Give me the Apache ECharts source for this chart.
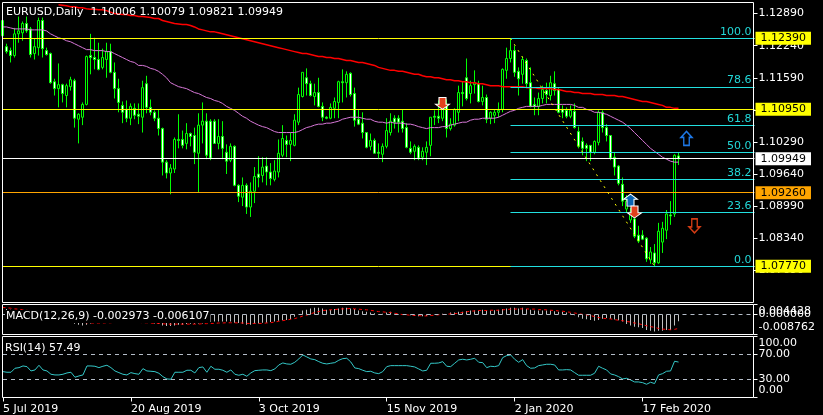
<!DOCTYPE html>
<html>
<head>
    <meta charset="utf-8"/>
    <title>EURUSD Daily</title>
    <script src="https://cdn.jsdelivr.net/npm/echarts@6/dist/echarts.min.js"></script>
    <style>
        html, body { margin: 0; padding: 0; background: #000; }
        #main { width: 823px; height: 415px; }
    </style>
</head>
<body>
<div id="main"></div>
<script type="text/javascript">
    // one value per daily bar
    var open = [1.1244,1.1222,1.1214,1.1204,1.1248,1.1250,1.1269,1.1258,1.1208,1.1220,1.1275,1.1214,1.1208,1.1151,1.1137,1.1145,1.1123,1.1141,1.1153,1.1075,
        1.1079,1.1105,1.1204,1.1200,1.1196,1.1180,1.1196,1.1212,1.1170,1.1137,1.1103,1.1095,1.1077,1.1097,1.1085,1.1079,1.1147,1.1099,1.1089,1.1077,
        1.1056,1.0988,1.0966,1.0974,1.1034,1.1034,1.1026,1.1046,1.1042,1.1006,1.1063,1.1071,1.1071,1.1071,1.1026,1.1040,1.1008,1.0992,1.1020,1.0941,
        1.0917,1.0941,1.0897,1.0929,1.0964,1.0961,1.0980,1.0968,1.0953,1.0968,1.1002,1.1032,1.1024,1.1022,1.1069,1.1121,1.1159,1.1147,1.1121,1.1129,
        1.1101,1.1079,1.1077,1.1097,1.1109,1.1151,1.1149,1.1168,1.1127,1.1075,1.1067,1.1048,1.1020,1.1032,1.1008,1.1004,1.1020,1.1048,1.1077,1.1077,
        1.1071,1.1058,1.1016,1.1010,1.1018,1.0998,1.1008,1.1022,1.1081,1.1081,1.1077,1.1105,1.1056,1.1063,1.1089,1.1129,1.1159,1.1127,1.1145,1.1147,
        1.1111,1.1119,1.1077,1.1083,1.1089,1.1095,1.1174,1.1198,1.1214,1.1172,1.1166,1.1194,1.1149,1.1105,1.1101,1.1117,1.1133,1.1123,1.1147,1.1135,
        1.1095,1.1093,1.1081,1.1091,1.1050,1.1030,1.1022,1.1022,1.1008,1.1028,1.1089,1.1058,1.1042,1.0998,1.0980,1.0943,1.0893,1.0871,1.0873,1.0840,
        1.0840,1.0834,1.0790,1.0804,1.0784,1.0826,1.0850,1.0881,1.0883,1.10006];
    var close = [1.1275,1.1212,1.1204,1.1248,1.1254,1.1269,1.1254,1.1206,1.1222,1.1275,1.1218,1.1206,1.1149,1.1137,1.1145,1.1127,1.1143,1.1155,1.1077,1.1085,
        1.1105,1.1202,1.1200,1.1196,1.1176,1.1200,1.1212,1.1170,1.1137,1.1109,1.1089,1.1077,1.1101,1.1083,1.1081,1.1139,1.1099,1.1089,1.1077,1.1056,
        1.0988,1.0966,1.0976,1.1034,1.1032,1.1022,1.1046,1.1040,1.1008,1.1063,1.1071,1.1002,1.0996,1.1026,1.1040,1.1016,1.0990,1.1020,1.0941,1.0919,
        1.0941,1.0897,1.0929,1.0959,1.0957,1.0978,1.0968,1.0955,1.0970,1.1006,1.1036,1.1024,1.1032,1.1073,1.1125,1.1170,1.1147,1.1123,1.1129,1.1101,
        1.1079,1.1077,1.1099,1.1111,1.1151,1.1149,1.1166,1.1125,1.1073,1.1065,1.1048,1.1018,1.1032,1.1006,1.1006,1.1020,1.1052,1.1071,1.1069,1.1069,
        1.1056,1.1018,1.1008,1.1020,1.0996,1.1010,1.1018,1.1079,1.1079,1.1077,1.1097,1.1056,1.1065,1.1095,1.1129,1.1127,1.1117,1.1143,1.1149,1.1111,
        1.1119,1.1075,1.1089,1.1089,1.1093,1.1176,1.1198,1.1214,1.1170,1.1157,1.1196,1.1147,1.1101,1.1101,1.1117,1.1135,1.1125,1.1149,1.1133,1.1089,
        1.1089,1.1081,1.1093,1.1058,1.1020,1.1016,1.1016,1.1008,1.1030,1.1089,1.1058,1.1042,1.0996,1.0978,1.0945,1.0909,1.0909,1.0887,1.0838,1.0828,
        1.0832,1.0792,1.0806,1.0784,1.0848,1.0854,1.0883,1.0879,1.1002,1.09949];
    var low = [1.1240,1.1208,1.1190,1.1200,1.1230,1.1234,1.1250,1.1200,1.1196,1.1204,1.1200,1.1204,1.1147,1.1123,1.1099,1.1109,1.1099,1.1133,1.1058,1.1026,
        1.1063,1.1103,1.1166,1.1176,1.1174,1.1176,1.1159,1.1168,1.1117,1.1089,1.1067,1.1069,1.1063,1.1075,1.1065,1.1048,1.1087,1.1083,1.1071,1.1042,
        1.0961,1.0955,1.0923,1.0966,1.1016,1.1016,1.1014,1.1020,1.0984,1.0927,1.1026,1.0994,1.0992,1.1026,1.1014,1.0994,1.0964,1.0988,1.0939,1.0907,
        1.0899,1.0883,1.0877,1.0905,1.0937,1.0947,1.0941,1.0941,1.0949,1.0957,1.0998,1.0998,1.0990,1.1020,1.1063,1.1119,1.1123,1.1121,1.1103,1.1099,
        1.1071,1.1075,1.1075,1.1077,1.1077,1.1109,1.1119,1.1121,1.1060,1.1063,1.1036,1.1016,1.1012,1.1006,1.0994,1.0988,1.1016,1.1042,1.1056,1.1048,
        1.1048,1.1016,1.1004,1.0992,1.0992,1.0992,1.0982,1.1000,1.1063,1.1067,1.1071,1.1038,1.1052,1.1060,1.1071,1.1101,1.1113,1.1107,1.1127,1.1109,
        1.1103,1.1067,1.1065,1.1067,1.1079,1.1089,1.1157,1.1190,1.1161,1.1123,1.1147,1.1139,1.1099,1.1083,1.1083,1.1107,1.1107,1.1113,1.1123,1.1087,
        1.1077,1.1077,1.1077,1.1056,1.1016,1.1002,1.0990,1.0990,1.1004,1.1022,1.1048,1.1030,1.0992,1.0961,1.0941,1.0899,1.0887,1.0865,1.0834,1.0824,
        1.0830,1.0786,1.0782,1.0777,1.0782,1.0804,1.0832,1.0861,1.0877,1.09821];
    var high = [1.1283,1.1228,1.1220,1.1260,1.1283,1.1273,1.1283,1.1262,1.1238,1.1281,1.1281,1.1220,1.1210,1.1157,1.1188,1.1147,1.1147,1.1161,1.1157,1.1087,
        1.1109,1.1204,1.1248,1.1240,1.1230,1.1218,1.1230,1.1228,1.1190,1.1157,1.1111,1.1113,1.1107,1.1107,1.1107,1.1153,1.1163,1.1115,1.1093,1.1095,
        1.1058,1.0992,1.0984,1.1038,1.1085,1.1052,1.1067,1.1048,1.1058,1.1087,1.1109,1.1087,1.1075,1.1075,1.1075,1.1071,1.1024,1.1026,1.1022,1.0943,
        1.0957,1.0945,1.0947,1.0978,1.1000,1.0998,1.0998,1.0986,1.0992,1.1034,1.1063,1.1042,1.1048,1.1085,1.1139,1.1170,1.1178,1.1153,1.1147,1.1159,
        1.1109,1.1081,1.1107,1.1119,1.1153,1.1176,1.1172,1.1170,1.1139,1.1095,1.1089,1.1048,1.1046,1.1036,1.1026,1.1026,1.1077,1.1087,1.1083,1.1083,
        1.1095,1.1067,1.1030,1.1024,1.1022,1.1018,1.1030,1.1079,1.1093,1.1113,1.1107,1.1115,1.1077,1.1097,1.1143,1.1151,1.1198,1.1153,1.1174,1.1153,
        1.1143,1.1125,1.1091,1.1095,1.1109,1.1178,1.1220,1.1239,1.1224,1.1180,1.1202,1.1198,1.1180,1.1119,1.1129,1.1143,1.1149,1.1163,1.1172,1.1139,
        1.1103,1.1099,1.1103,1.1107,1.1060,1.1038,1.1026,1.1022,1.1032,1.1093,1.1093,1.1065,1.1042,1.1008,1.0982,1.0957,1.0921,1.0895,1.0897,1.0859,
        1.0850,1.0836,1.0816,1.0822,1.0865,1.0867,1.0891,1.0909,1.1004,1.10079];

    var ma50 = [1.1262,1.1262,1.1260,1.1258,1.1258,1.1258,1.1258,1.1256,1.1256,1.1256,1.1256,1.1254,1.1248,1.1244,1.1240,1.1238,1.1234,1.1232,1.1228,1.1224,
        1.1220,1.1216,1.1216,1.1214,1.1214,1.1214,1.1212,1.1212,1.1208,1.1204,1.1200,1.1196,1.1192,1.1190,1.1184,1.1184,1.1182,1.1178,1.1176,1.1172,
        1.1166,1.1159,1.1149,1.1145,1.1141,1.1139,1.1137,1.1133,1.1129,1.1127,1.1123,1.1119,1.1117,1.1113,1.1111,1.1107,1.1101,1.1097,1.1093,1.1087,
        1.1081,1.1077,1.1071,1.1067,1.1063,1.1060,1.1058,1.1054,1.1050,1.1048,1.1048,1.1048,1.1048,1.1048,1.1050,1.1054,1.1058,1.1060,1.1063,1.1065,
        1.1065,1.1067,1.1067,1.1069,1.1071,1.1075,1.1077,1.1079,1.1079,1.1079,1.1077,1.1075,1.1075,1.1071,1.1069,1.1069,1.1067,1.1069,1.1067,1.1067,
        1.1067,1.1065,1.1065,1.1063,1.1060,1.1058,1.1056,1.1058,1.1058,1.1058,1.1060,1.1060,1.1063,1.1065,1.1067,1.1069,1.1069,1.1073,1.1075,1.1075,
        1.1077,1.1077,1.1077,1.1077,1.1079,1.1083,1.1087,1.1091,1.1093,1.1097,1.1099,1.1101,1.1101,1.1101,1.1101,1.1103,1.1105,1.1105,1.1105,1.1105,
        1.1105,1.1105,1.1105,1.1103,1.1099,1.1099,1.1095,1.1093,1.1089,1.1089,1.1087,1.1085,1.1081,1.1077,1.1073,1.1069,1.1063,1.1056,1.1048,1.1040,
        1.1032,1.1024,1.1016,1.1010,1.1004,1.0998,1.0994,1.0990,1.0988,1.0988];
    // starts at bar 14, above that it runs off the top of the panel
    var ma200 = [null,null,null,null,null,null,null,null,null,null,null,null,null,null,1.1307,1.1306,1.1305,1.1303,1.1303,1.1301,
        1.1301,1.1299,1.1298,1.1298,1.1297,1.1297,1.1295,1.1292,1.1289,1.1288,1.1287,1.1287,1.1285,1.1285,1.1283,1.1283,1.1282,1.1281,1.1279,1.1279,
        1.1275,1.1273,1.1271,1.1269,1.1268,1.1267,1.1267,1.1265,1.1262,1.1258,1.1256,1.1254,1.1252,1.1252,1.1250,1.1248,1.1246,1.1244,1.1242,1.1240,
        1.1238,1.1236,1.1234,1.1232,1.1230,1.1228,1.1226,1.1224,1.1222,1.1220,1.1218,1.1216,1.1214,1.1212,1.1210,1.1208,1.1208,1.1206,1.1204,1.1202,
        1.1202,1.1200,1.1200,1.1198,1.1198,1.1196,1.1194,1.1194,1.1192,1.1190,1.1190,1.1188,1.1186,1.1184,1.1180,1.1178,1.1176,1.1174,1.1174,1.1172,
        1.1172,1.1170,1.1168,1.1166,1.1166,1.1163,1.1161,1.1161,1.1159,1.1159,1.1157,1.1155,1.1155,1.1153,1.1153,1.1151,1.1151,1.1149,1.1149,1.1147,
        1.1147,1.1145,1.1143,1.1143,1.1143,1.1141,1.1141,1.1141,1.1141,1.1141,1.1141,1.1139,1.1139,1.1139,1.1137,1.1137,1.1137,1.1137,1.1135,1.1135,
        1.1133,1.1131,1.1131,1.1129,1.1129,1.1127,1.1127,1.1127,1.1125,1.1125,1.1125,1.1123,1.1123,1.1123,1.1121,1.1121,1.1119,1.1117,1.1115,1.1113,
        1.1111,1.1111,1.1109,1.1107,1.1105,1.1103,1.1099,1.1099,1.1097,1.1097];

    var macdHist = [.0027,.0024,.0021,.0018,.0015,.0012,.0012,.0009,.0006,.0004,0,-.0006,-.0012,-.0018,-.0024,-.0027,-.0030,-.0033,-.0040,-.0045,
        -.0048,-.0045,-.0039,-.0033,-.0030,-.0027,-.0024,-.0021,-.0021,-.0021,-.0024,-.0027,-.0030,-.0030,-.0033,-.0033,-.0033,-.0036,-.0039,-.0042,
        -.0048,-.0050,-.0050,-.0048,-.0045,-.0045,-.0042,-.0040,-.0040,-.0039,-.0039,-.0036,-.0033,-.0030,-.0030,-.0030,-.0031,-.0031,-.0036,-.0037,
        -.0040,-.0045,-.0045,-.0040,-.0039,-.0036,-.0036,-.0033,-.0030,-.0027,-.0025,-.0024,-.0021,-.0010,0,.0018,.0021,.0027,.0030,.0030,
        .0027,.0021,.0021,.0024,.0027,.0030,.0030,.0027,.0024,.0018,.0015,.0012,.0009,.0006,.0003,.0004,.0009,.0012,.0004,.0001,
        0,-.0001,-.0003,-.0006,-.0007,-.0007,-.0006,-.0003,0,.0001,.0004,.0003,.0009,.0009,.0012,.0012,.0016,.0018,.0019,.0018,
        .0021,.0018,.0018,.0019,.0021,.0024,.0027,.0030,.0030,.0027,.0030,.0024,.0021,.0018,.0018,.0018,.0018,.0018,.0015,.0012,
        .0012,.0009,.0006,-.0003,-.0012,-.0018,-.0021,-.0024,-.0027,-.0024,-.0018,-.0015,-.0018,-.0022,-.0025,-.0030,-.0042,-.0048,-.0053,-.0056,
        -.0059,-.0068,-.0071,-.0074,-.0071,-.0071,-.0068,-.0068,-.0048,-.002973];
    var macdSignal = [.0031,.0030,.0028,.0025,.0024,.0021,.0019,.0016,.0015,.0012,.0009,.0006,.0001,-.0003,-.0007,-.0012,-.0016,-.0021,-.0025,-.0030,
        -.0033,-.0036,-.0037,-.0037,-.0037,-.0037,-.0036,-.0036,-.0034,-.0033,-.0033,-.0033,-.0033,-.0033,-.0034,-.0036,-.0036,-.0037,-.0039,-.0039,
        -.0040,-.0042,-.0042,-.0042,-.0042,-.0042,-.0042,-.0042,-.0042,-.0042,-.0040,-.0040,-.0039,-.0039,-.0037,-.0037,-.0036,-.0036,-.0036,-.0037,
        -.0037,-.0039,-.0039,-.0039,-.0039,-.0039,-.0037,-.0036,-.0033,-.0030,-.0027,-.0024,-.0021,-.0018,-.0013,-.0007,-.0003,.0003,.0009,.0013,
        .0018,.0019,.0021,.0022,.0024,.0025,.0025,.0027,.0025,.0024,.0022,.0021,.0019,.0016,.0013,.0012,.0010,.0009,.0006,.0003,
        0,-.0001,-.0003,-.0004,-.0004,-.0006,-.0006,-.0004,-.0003,-.0001,0,.0001,.0003,.0004,.0006,.0009,.0012,.0015,.0016,.0018,
        .0018,.0018,.0019,.0019,.0019,.0021,.0022,.0024,.0024,.0025,.0025,.0025,.0024,.0024,.0022,.0021,.0021,.0019,.0018,.0016,
        .0015,.0012,.0010,.0007,.0004,.0001,-.0001,-.0004,-.0009,-.0013,-.0016,-.0018,-.0019,-.0022,-.0025,-.0027,-.0030,-.0033,-.0037,-.0040,
        -.0045,-.0049,-.0053,-.0056,-.0061,-.0064,-.0065,-.0067,-.0065,-.006107];
    var rsi = [42.2,41.2,41.2,47.6,48.6,51.3,50.2,43.3,44.9,52.4,44.9,43.3,38,36.9,36.9,38,40.1,41.2,33.2,35.3,
        36.9,51.3,51.3,50.8,48.6,50.8,52.4,48.6,43.3,40.6,38,36.9,40.6,39,38,47,43.3,42.8,42.2,39.6,
        34.2,30.5,30,41.2,41.2,41.2,44.4,44.4,40.1,48.6,49.7,41.2,50.8,46,46,44.4,41.2,44.9,38,36.4,
        38,34.8,40.1,43.8,44.4,44.9,44.9,43.8,46.5,52.9,56.1,54.5,54,57.2,62.5,68.9,65.7,62.5,61.4,58.2,
        55.6,54.5,55.6,56.6,60.4,63,63.6,57.7,48.1,47,44.4,42.2,42.8,40.1,39,42.2,50.2,51.8,51.8,51.8,
        51.8,51.8,50.8,49.7,46.5,43.3,44.4,55.6,55.6,56.1,58.2,50.8,50.2,55.6,60.9,62,60.9,62,63.6,57.2,
        56.6,48.6,50.8,50.2,51.8,64.6,67.8,68.9,62,57.2,61.4,51.8,47.6,48.1,51.8,52.9,54,54,52.9,44.9,
        44.9,45.4,44.9,40.6,36.4,36.4,36.4,36.4,39.6,50.8,47.6,44.9,38.5,36.9,34.2,30.5,31.6,28.9,25.7,25.7,
        24.6,22,25.2,23.1,36.9,39,42.8,43.3,58.8,57.49];

    var dateLabels = ['5 Jul 2019', '20 Aug 2019', '3 Oct 2019', '15 Nov 2019', '2 Jan 2020', '17 Feb 2020'];
    var priceTicks = [1.1289, 1.1224, 1.1159, 1.1094, 1.1029, 1.0964, 1.0899, 1.0834, 1.0769];

    var fibLevels = ['100.0', '78.6', '61.8', '50.0', '38.2', '23.6', '0.0'];
    var fibPrices = [1.1239, 1.11401, 1.10625, 1.1008, 1.09535, 1.0886, 1.0777];
    var fibStartBar = 127, swingLowBar = 163, lastSlot = 188;

    var priceLines = [1.1239, 1.1095, 1.0926, 1.09949, 1.0777];
    var priceLineColors = ['#ffff00', '#ffff00', '#ffa500', '#ffffff', '#ffff00'];

    var solidUp = [[157, 1.0911]], solidDown = [[110, 1.1107], [158, 1.0887]];
    var hollowUp = [[171, 1.1036]], hollowDown = [[173, 1.0859]];

    var slots = [];
    for (var s = 0; s <= lastSlot; s++) slots.push(String(s));
    var candles = open.map(function (o, i) { return [o, close[i], low[i], high[i]]; });

    var uiFont = 'DejaVu Sans';
    var arrowUp = 'path://M6 0 L12 6 L9 6 L9 14 L3 14 L3 6 L0 6 Z';
    var arrowDown = 'path://M3 0 L9 0 L9 8 L12 8 L6 14 L0 8 L3 8 Z';

    var everyDate = function (i) { return i % 32 === 0; };
    var tag = function (v, color) {
        return [{
            coord: [0, v],
            lineStyle: {color: color, width: 1, type: 'solid'},
            label: {
                show: true, position: 'end', distance: 1,
                formatter: v.toFixed(5), color: '#000', backgroundColor: color,
                padding: [1, 5], fontFamily: uiFont, fontSize: 11
            }
        }, {coord: [lastSlot, v]}];
    };
    var fib = function (price, i) {
        return [{
            coord: [fibStartBar, price],
            lineStyle: {color: '#22e0e0', width: 1, type: 'solid'},
            label: {
                show: true, position: 'insideEndTop', distance: 1, formatter: fibLevels[i], padding: [0, 2, 0, 0],
                color: '#22d8d8', fontFamily: uiFont, fontSize: 11
            }
        }, {coord: [lastSlot, price]}];
    };
    var level = function (v, text) {
        return [{
            coord: [0, v],
            lineStyle: {color: '#b4bcc8', width: 1, type: [4, 4]},
            label: {show: !!text, formatter: text || '', position: 'end', distance: 4, color: '#fff', fontFamily: uiFont, fontSize: 11}
        }, {coord: [lastSlot, v]}];
    };
    var hiddenX = function (grid) {
        return {type: 'category', gridIndex: grid, data: slots, boundaryGap: false, show: false};
    };
    var rightY = function (grid, min, max, ticks, labels, names) {
        return {
            type: 'value', gridIndex: grid, position: 'right', offset: -1, min: min, max: max,
            splitLine: {show: false},
            axisLine: {show: false},
            axisTick: {show: true, customValues: ticks, length: 4, lineStyle: {color: '#fff'}},
            axisLabel: {
                customValues: labels, margin: 5, color: '#fff', fontFamily: uiFont, fontSize: 11, align: 'left',
                showMinLabel: true, showMaxLabel: true, hideOverlap: false,
                formatter: function (v) { return names(v); }
            }
        };
    };

    // panel labels sit inside the panel edge, so they are placed apart from their ticks
    var macdLabelAt = [0.0014, -0.00566], macdLabels = ['0.004428', '-0.008762'];
    var rsiLabelAt = [88, 70, 30, 12.3], rsiLabels = ['100.00', '70.00', '30.00', '0.00'];

    var titleStyle = {color: '#fff', fontFamily: uiFont, fontSize: 11, fontWeight: 'normal'};

    var myChart = echarts.init(document.getElementById('main'));
    var option = {
        animation: false,
        backgroundColor: '#000',
        title: [
            {text: 'EURUSD,Daily  1.10006 1.10079 1.09821 1.09949', left: 6, top: 7, padding: 0, textStyle: titleStyle},
            {text: 'MACD(12,26,9) -0.002973 -0.006107', left: 5, top: 310, padding: [1, 1], backgroundColor: '#000', textStyle: titleStyle},
            {text: 'RSI(14) 57.49', left: 5, top: 343, padding: 0, textStyle: titleStyle}
        ],
        grid: [
            {left: 2.5, top: 2.5, width: 752, height: 300},
            {left: 2.5, top: 304.5, width: 752, height: 30},
            {left: 2.5, top: 336.5, width: 752, height: 61}
        ],
        xAxis: [
            hiddenX(0),
            hiddenX(1),
            {
                type: 'category', gridIndex: 2, data: slots, boundaryGap: false,
                axisLine: {show: false},
                axisTick: {show: true, interval: function (i) { return everyDate(i); }, length: 4, lineStyle: {color: '#fff'}},
                axisLabel: {
                    interval: function (i) { return everyDate(i); }, color: '#fff', fontFamily: uiFont, fontSize: 11,
                    align: 'left', margin: 6, showMinLabel: true,
                    formatter: function (v, i) { return dateLabels[i / 32] || ''; }
                }
            }
        ],
        yAxis: [
            rightY(0, 1.07036, 1.13115, priceTicks, priceTicks, function (v) { return v.toFixed(5); }),
            rightY(1, -0.008762, 0.004428, [0.004428, 0, -0.008762], macdLabelAt, function (v) { return macdLabels[macdLabelAt.indexOf(v)]; }),
            rightY(2, 0.8, 98.4, [98.4, 70, 30, 0.8], rsiLabelAt, function (v) { return rsiLabels[rsiLabelAt.indexOf(v)]; })
        ],
        series: [
            {
                type: 'candlestick', xAxisIndex: 0, yAxisIndex: 0, data: candles, barWidth: 3, z: 3,
                itemStyle: {color: '#000', color0: '#fff', borderColor: '#00ff00', borderColor0: '#00ff00', borderColorDoji: '#00ff00', borderWidth: 1}
            },
            {
                type: 'line', name: 'price lines', xAxisIndex: 0, yAxisIndex: 0, data: [], z: 2,
                markLine: {
                    silent: true, symbol: 'none', animation: false,
                    data: priceLines.map(function (v, i) { return tag(v, priceLineColors[i]); })
                }
            },
            {
                type: 'line', name: 'fibo', xAxisIndex: 0, yAxisIndex: 0, data: [], z: 2,
                markLine: {
                    silent: true, symbol: 'none', animation: false,
                    data: fibPrices.map(fib).concat([[
                        {coord: [fibStartBar, fibPrices[0]], lineStyle: {color: '#ffff00', width: 1, type: [2, 5]}, label: {show: false}},
                        {coord: [swingLowBar, fibPrices[6]]}
                    ]])
                }
            },
            {type: 'line', xAxisIndex: 0, yAxisIndex: 0, data: ma200, showSymbol: false, z: 4, lineStyle: {color: '#ff0000', width: 1.5}},
            {type: 'line', xAxisIndex: 0, yAxisIndex: 0, data: ma50, showSymbol: false, z: 4, lineStyle: {color: '#d878d8', width: 1}},
            {type: 'scatter', xAxisIndex: 0, yAxisIndex: 0, data: solidDown, symbol: arrowDown, symbolSize: [14, 12], z: 6,
                itemStyle: {color: '#e2401c', borderColor: '#fff', borderWidth: 1, opacity: 1}},
            {type: 'scatter', xAxisIndex: 0, yAxisIndex: 0, data: solidUp, symbol: arrowUp, symbolSize: [14, 12], z: 5,
                itemStyle: {color: '#0a64b4', borderColor: '#fff', borderWidth: 1, opacity: 1}},
            {type: 'scatter', xAxisIndex: 0, yAxisIndex: 0, data: hollowUp, symbol: arrowUp, symbolSize: [11, 14], z: 5,
                itemStyle: {color: '#000', borderColor: '#1e78e6', borderWidth: 1.5, opacity: 1}},
            {type: 'scatter', xAxisIndex: 0, yAxisIndex: 0, data: hollowDown, symbol: arrowDown, symbolSize: [11, 14], z: 5,
                itemStyle: {color: '#000', borderColor: '#d23c14', borderWidth: 1.5, opacity: 1}},

            {
                type: 'bar', xAxisIndex: 1, yAxisIndex: 1, data: macdHist, barWidth: 1, z: 2,
                itemStyle: {color: '#c0c0c0'},
                markLine: {silent: true, symbol: 'none', animation: false, data: [level(0, '0.000000')]}
            },
            {type: 'line', xAxisIndex: 1, yAxisIndex: 1, data: macdSignal, showSymbol: false, z: 3, lineStyle: {color: '#ff0000', width: 1, type: [3, 3]}},

            {
                type: 'line', xAxisIndex: 2, yAxisIndex: 2, data: rsi, showSymbol: false, z: 3, lineStyle: {color: '#34c8c8', width: 1},
                markLine: {silent: true, symbol: 'none', animation: false, data: [level(70), level(30)]}
            }
        ],
        graphic: [
            {type: 'rect', silent: true, z: 50, shape: {x: 2.5, y: 2.5, width: 751, height: 300}, style: {fill: null, stroke: '#fff', lineWidth: 1}},
            {type: 'rect', silent: true, z: 50, shape: {x: 2.5, y: 304.5, width: 751, height: 30}, style: {fill: null, stroke: '#fff', lineWidth: 1}},
            {type: 'rect', silent: true, z: 50, shape: {x: 2.5, y: 336.5, width: 751, height: 61}, style: {fill: null, stroke: '#fff', lineWidth: 1}}
        ]
    };
    myChart.setOption(option);
</script>
</body>
</html>
